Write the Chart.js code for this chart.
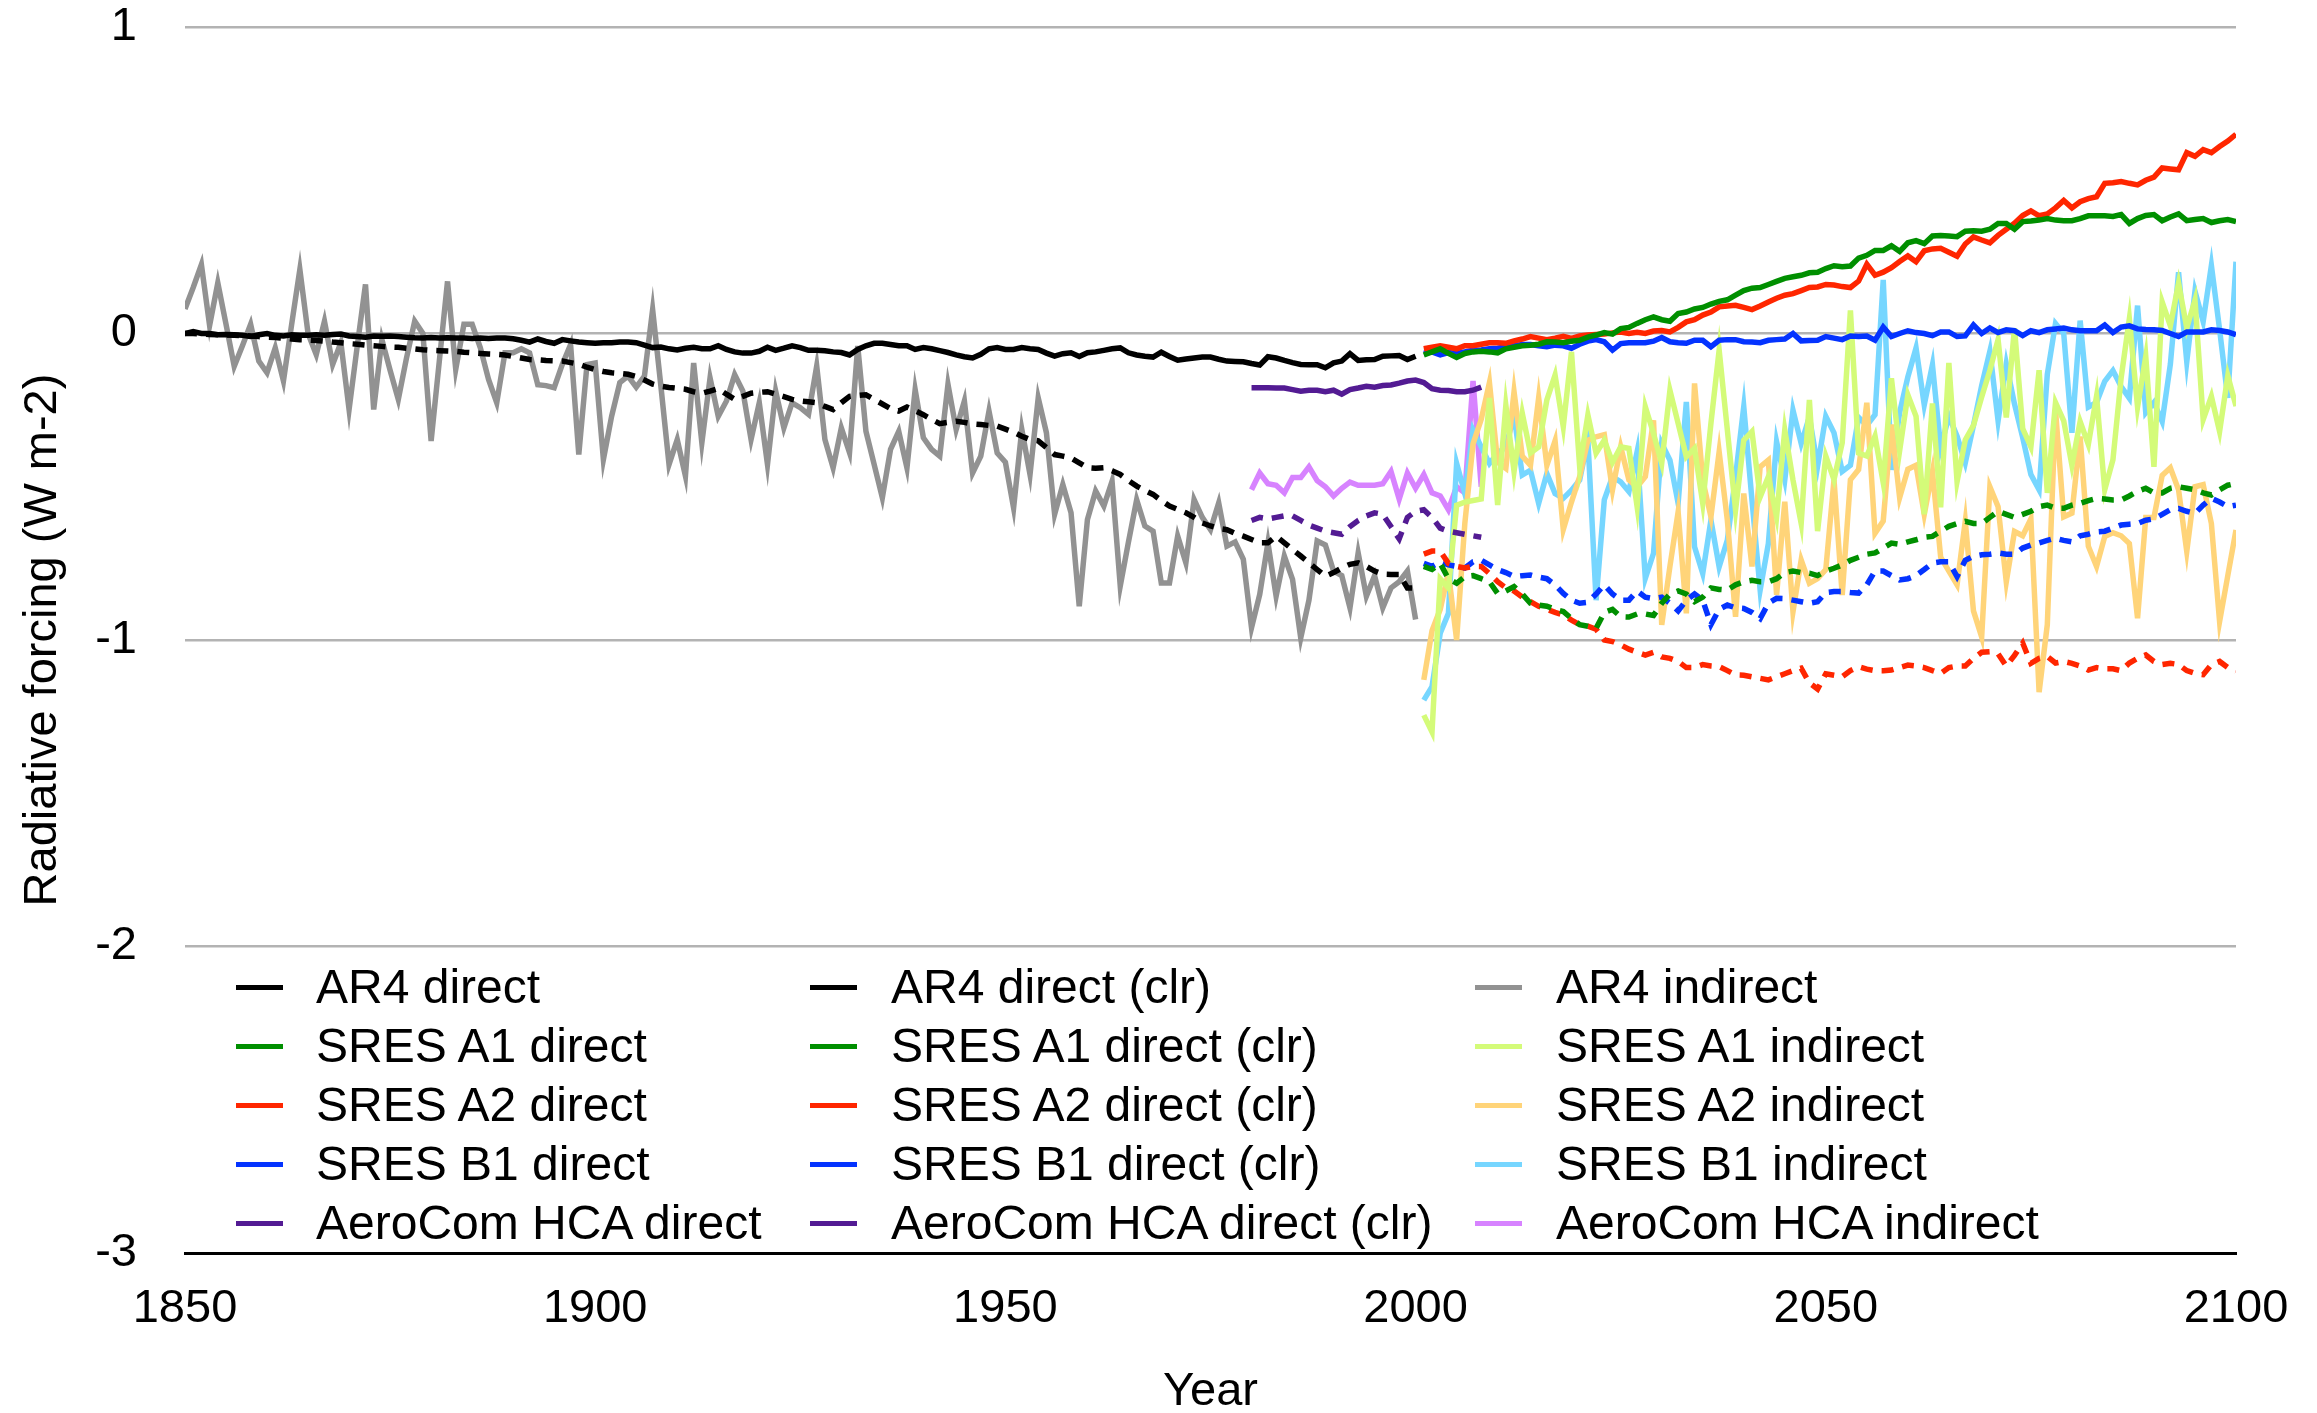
<!DOCTYPE html>
<html><head><meta charset="utf-8">
<script src="https://cdn.jsdelivr.net/npm/chart.js@4.4.1/dist/chart.umd.min.js"></script>
<style>
html,body{margin:0;padding:0;background:#fff;overflow:hidden;}
#wrap{position:relative;width:2317px;height:1413px;}
canvas{display:block;}
.lgt{position:absolute;font-family:"Liberation Sans",Arial,Helvetica,sans-serif;font-size:48px;line-height:56px;color:#000;white-space:nowrap;}
.lgs{position:absolute;height:5px;width:47px;}
</style></head><body>
<div id="wrap"><canvas id="c" width="2317" height="1413" style="width:2317px;height:1413px"></canvas><div id="legend"></div></div>
<script>
// ---------- tick labels ----------
const xTickValues = [1850, 1900, 1950, 2000, 2050, 2100];
const yTickValues = [1, 0, -1, -2, -3];

// ---------- first year of each series ----------
const ar4StartYear = 1850;
const aeroStartYear = 1980;
const sresStartYear = 2001;

// ---------- AR4 (1850-2000) ----------
const ar4Direct = [
 0.000, 0.006, 0.000, 0.000, -0.004, -0.003, -0.004, -0.006, -0.010, -0.004,
 0.000, -0.006, -0.008, -0.004, -0.006, -0.006, -0.004, -0.006, -0.003, -0.002,
 -0.008, -0.010, -0.012, -0.008, -0.009, -0.008, -0.010, -0.012, -0.014, -0.015,
 -0.013, -0.015, -0.014, -0.015, -0.015, -0.016, -0.015, -0.016, -0.015, -0.015,
 -0.017, -0.022, -0.028, -0.018, -0.026, -0.032, -0.020, -0.024, -0.028, -0.030,
 -0.032, -0.030, -0.030, -0.028, -0.028, -0.030, -0.038, -0.046, -0.044, -0.050,
 -0.054, -0.048, -0.045, -0.050, -0.050, -0.040, -0.052, -0.060, -0.064, -0.064,
 -0.058, -0.045, -0.055, -0.048, -0.040, -0.046, -0.055, -0.055, -0.056, -0.060,
 -0.062, -0.070, -0.052, -0.040, -0.032, -0.032, -0.036, -0.040, -0.040, -0.052,
 -0.046, -0.050, -0.056, -0.062, -0.070, -0.076, -0.080, -0.068, -0.050, -0.046,
 -0.052, -0.052, -0.046, -0.050, -0.052, -0.064, -0.074, -0.066, -0.063, -0.075,
 -0.063, -0.060, -0.055, -0.050, -0.047, -0.063, -0.070, -0.074, -0.077, -0.061,
 -0.075, -0.087, -0.083, -0.080, -0.077, -0.077, -0.084, -0.090, -0.091, -0.092,
 -0.098, -0.103, -0.076, -0.080, -0.088, -0.095, -0.101, -0.102, -0.102, -0.112,
 -0.096, -0.090, -0.066, -0.088, -0.086, -0.085, -0.074, -0.073, -0.072, -0.085,
 -0.074
];
const ar4DirectClr = [
 0.000, 0.000, -0.002, -0.003, -0.004, -0.005, -0.006, -0.007, -0.008, -0.010,
 -0.012, -0.013, -0.015, -0.018, -0.020, -0.021, -0.023, -0.025, -0.028, -0.030,
 -0.033, -0.035, -0.038, -0.040, -0.042, -0.044, -0.045, -0.048, -0.050, -0.053,
 -0.055, -0.056, -0.057, -0.058, -0.061, -0.063, -0.065, -0.067, -0.068, -0.070,
 -0.075, -0.080, -0.085, -0.086, -0.088, -0.089, -0.090, -0.095, -0.100, -0.110,
 -0.118, -0.124, -0.128, -0.130, -0.133, -0.140, -0.152, -0.165, -0.172, -0.176,
 -0.179, -0.182, -0.190, -0.195, -0.188, -0.180, -0.198, -0.215, -0.205, -0.195,
 -0.192, -0.190, -0.198, -0.206, -0.215, -0.220, -0.223, -0.226, -0.238, -0.248,
 -0.226, -0.205, -0.202, -0.200, -0.215, -0.230, -0.245, -0.253, -0.240, -0.252,
 -0.265, -0.280, -0.294, -0.290, -0.286, -0.290, -0.295, -0.297, -0.300, -0.302,
 -0.312, -0.322, -0.335, -0.346, -0.350, -0.372, -0.395, -0.400, -0.406, -0.422,
 -0.438, -0.440, -0.438, -0.448, -0.460, -0.480, -0.498, -0.512, -0.525, -0.545,
 -0.563, -0.574, -0.585, -0.600, -0.618, -0.628, -0.636, -0.640, -0.652, -0.661,
 -0.672, -0.683, -0.683, -0.661, -0.683, -0.705, -0.726, -0.748, -0.770, -0.792,
 -0.780, -0.765, -0.753, -0.748, -0.760, -0.775, -0.785, -0.786, -0.786, -0.830,
 -0.830
];
const ar4Indirect = [
 0.080, 0.150, 0.225, 0.026, 0.165, 0.030, -0.107, -0.040, 0.030, -0.090,
 -0.128, -0.047, -0.155, 0.030, 0.209, 0.000, -0.069, 0.040, -0.101, -0.030,
 -0.248, -0.040, 0.160, -0.248, -0.020, -0.120, -0.215, -0.080, 0.040, 0.000,
 -0.351, -0.090, 0.170, -0.117, 0.030, 0.030, -0.047, -0.150, -0.226, -0.063,
 -0.063, -0.050, -0.063, -0.167, -0.170, -0.177, -0.100, -0.036, -0.395, -0.101,
 -0.096, -0.411, -0.270, -0.160, -0.139, -0.175, -0.139, 0.078, -0.170, -0.427,
 -0.346, -0.465, -0.096, -0.357, -0.145, -0.270, -0.220, -0.134, -0.188, -0.346,
 -0.226, -0.427, -0.188, -0.308, -0.226, -0.242, -0.264, -0.106, -0.346, -0.438,
 -0.308, -0.389, -0.041, -0.319, -0.427, -0.536, -0.378, -0.319, -0.438, -0.183,
 -0.340, -0.378, -0.400, -0.166, -0.313, -0.220, -0.455, -0.400, -0.253, -0.390,
 -0.420, -0.569, -0.313, -0.460, -0.210, -0.324, -0.590, -0.493, -0.585, -0.890,
 -0.607, -0.514, -0.563, -0.482, -0.824, -0.680, -0.542, -0.628, -0.645, -0.814,
 -0.814, -0.661, -0.748, -0.542, -0.600, -0.640, -0.553, -0.694, -0.680, -0.737,
 -0.960, -0.851, -0.683, -0.857, -0.726, -0.802, -0.993, -0.870, -0.677, -0.690,
 -0.775, -0.790, -0.895, -0.716, -0.857, -0.790, -0.895, -0.830, -0.810, -0.775,
 -0.933
];

// ---------- AeroCom HCA (1980-2008) ----------
const aeroDirect = [
 -0.177, -0.177, -0.177, -0.178, -0.178, -0.183, -0.188, -0.185, -0.185, -0.190,
 -0.185, -0.198, -0.183, -0.178, -0.172, -0.175, -0.170, -0.168, -0.162, -0.155,
 -0.152, -0.160, -0.180, -0.185, -0.186, -0.190, -0.190, -0.185, -0.175
];
const aeroDirectClr = [
 -0.610, -0.600, -0.605, -0.600, -0.595, -0.595, -0.610, -0.625, -0.635, -0.645,
 -0.650, -0.655, -0.630, -0.610, -0.595, -0.585, -0.590, -0.630, -0.670, -0.600,
 -0.580, -0.575, -0.600, -0.635, -0.645, -0.650, -0.655, -0.660, -0.665
];
const aeroIndirect = [
 -0.510, -0.455, -0.490, -0.495, -0.520, -0.470, -0.470, -0.435, -0.480, -0.500,
 -0.530, -0.505, -0.485, -0.495, -0.495, -0.495, -0.490, -0.450, -0.540, -0.455,
 -0.505, -0.460, -0.520, -0.530, -0.575, -0.500, -0.520, -0.155, -0.500
];

// ---------- SRES (2001-2100) ----------
const a1Direct = [
 -0.070, -0.060, -0.050, -0.065, -0.078, -0.065, -0.060, -0.058, -0.060, -0.063,
 -0.050, -0.045, -0.040, -0.038, -0.035, -0.027, -0.028, -0.030, -0.025, -0.022,
 -0.012, -0.005, 0.003, -0.002, 0.016, 0.020, 0.033, 0.045, 0.054, 0.045,
 0.040, 0.065, 0.070, 0.080, 0.085, 0.096, 0.105, 0.110, 0.125, 0.140,
 0.148, 0.150, 0.160, 0.170, 0.180, 0.185, 0.190, 0.198, 0.200, 0.212,
 0.221, 0.218, 0.220, 0.246, 0.255, 0.271, 0.271, 0.286, 0.268, 0.296,
 0.303, 0.293, 0.318, 0.320, 0.318, 0.316, 0.334, 0.335, 0.334, 0.340,
 0.359, 0.359, 0.340, 0.365, 0.367, 0.370, 0.375, 0.370, 0.368, 0.368,
 0.375, 0.384, 0.384, 0.384, 0.382, 0.388, 0.359, 0.375, 0.385, 0.388,
 0.368, 0.380, 0.390, 0.368, 0.372, 0.375, 0.362, 0.368, 0.372, 0.365
];
const a2Direct = [
 -0.050, -0.045, -0.040, -0.045, -0.050, -0.040, -0.040, -0.035, -0.030, -0.030,
 -0.032, -0.024, -0.018, -0.010, -0.015, -0.020, -0.015, -0.009, -0.016, -0.008,
 -0.005, -0.003, -0.002, 0.002, 0.005, 0.000, 0.004, 0.000, 0.008, 0.010,
 0.005, 0.020, 0.038, 0.045, 0.060, 0.070, 0.087, 0.090, 0.092, 0.085,
 0.078, 0.090, 0.103, 0.115, 0.125, 0.130, 0.140, 0.150, 0.152, 0.160,
 0.158, 0.153, 0.150, 0.171, 0.226, 0.190, 0.200, 0.215, 0.235, 0.253,
 0.234, 0.270, 0.276, 0.278, 0.265, 0.252, 0.292, 0.315, 0.305, 0.296,
 0.320, 0.340, 0.360, 0.385, 0.400, 0.384, 0.390, 0.410, 0.434, 0.410,
 0.430, 0.440, 0.446, 0.490, 0.492, 0.496, 0.490, 0.485, 0.500, 0.510,
 0.540, 0.537, 0.534, 0.590, 0.578, 0.600, 0.590, 0.610, 0.628, 0.650
];
const b1Direct = [
 -0.065, -0.060, -0.070, -0.062, -0.065, -0.060, -0.055, -0.054, -0.050, -0.048,
 -0.043, -0.040, -0.036, -0.036, -0.040, -0.043, -0.038, -0.040, -0.048, -0.035,
 -0.025, -0.020, -0.027, -0.054, -0.033, -0.030, -0.030, -0.030, -0.025, -0.013,
 -0.027, -0.030, -0.032, -0.022, -0.022, -0.043, -0.022, -0.020, -0.020, -0.027,
 -0.028, -0.030, -0.022, -0.020, -0.018, 0.000, -0.024, -0.023, -0.022, -0.010,
 -0.015, -0.020, -0.008, -0.010, -0.008, -0.022, 0.021, -0.010, 0.000, 0.009,
 0.003, 0.000, -0.007, 0.005, 0.005, -0.010, -0.008, 0.028, 0.000, 0.018,
 0.003, 0.012, 0.009, -0.007, 0.009, 0.003, 0.012, 0.015, 0.018, 0.012,
 0.009, 0.009, 0.009, 0.028, 0.003, 0.021, 0.025, 0.015, 0.013, 0.012,
 0.010, 0.000, -0.010, 0.005, 0.005, 0.005, 0.012, 0.010, 0.005, -0.004
];
const a1DirectClr = [
 -0.760, -0.770, -0.750, -0.800, -0.815, -0.793, -0.790, -0.800, -0.810, -0.848,
 -0.840, -0.826, -0.850, -0.880, -0.886, -0.890, -0.900, -0.907, -0.930, -0.950,
 -0.955, -0.962, -0.910, -0.900, -0.924, -0.925, -0.915, -0.915, -0.920, -0.880,
 -0.850, -0.840, -0.850, -0.875, -0.860, -0.830, -0.835, -0.837, -0.820, -0.810,
 -0.805, -0.810, -0.810, -0.800, -0.780, -0.775, -0.780, -0.782, -0.790, -0.775,
 -0.766, -0.755, -0.740, -0.730, -0.720, -0.716, -0.700, -0.684, -0.688, -0.680,
 -0.673, -0.665, -0.662, -0.645, -0.629, -0.620, -0.613, -0.620, -0.620, -0.600,
 -0.580, -0.590, -0.600, -0.590, -0.580, -0.565, -0.560, -0.570, -0.570, -0.560,
 -0.554, -0.545, -0.538, -0.540, -0.543, -0.543, -0.530, -0.515, -0.505, -0.520,
 -0.520, -0.505, -0.500, -0.505, -0.510, -0.520, -0.527, -0.510, -0.495, -0.489
];
const a2DirectClr = [
 -0.720, -0.710, -0.710, -0.750, -0.760, -0.765, -0.760, -0.760, -0.783, -0.810,
 -0.830, -0.840, -0.860, -0.875, -0.890, -0.900, -0.910, -0.918, -0.935, -0.950,
 -0.955, -0.965, -1.000, -1.005, -1.016, -1.030, -1.040, -1.049, -1.040, -1.055,
 -1.060, -1.070, -1.090, -1.090, -1.080, -1.085, -1.087, -1.100, -1.114, -1.115,
 -1.120, -1.125, -1.130, -1.120, -1.110, -1.100, -1.092, -1.140, -1.160, -1.110,
 -1.115, -1.120, -1.100, -1.087, -1.095, -1.100, -1.100, -1.098, -1.090, -1.082,
 -1.085, -1.090, -1.100, -1.109, -1.090, -1.085, -1.085, -1.060, -1.040, -1.038,
 -1.045, -1.085, -1.050, -1.010, -1.076, -1.060, -1.054, -1.075, -1.070, -1.076,
 -1.085, -1.098, -1.090, -1.094, -1.094, -1.100, -1.075, -1.060, -1.049, -1.070,
 -1.080, -1.076, -1.080, -1.100, -1.109, -1.113, -1.080, -1.070, -1.090, -1.100
];
const b1DirectClr = [
 -0.750, -0.760, -0.745, -0.755, -0.760, -0.765, -0.745, -0.740, -0.755, -0.770,
 -0.780, -0.793, -0.790, -0.788, -0.795, -0.800, -0.820, -0.848, -0.870, -0.880,
 -0.877, -0.850, -0.820, -0.850, -0.870, -0.870, -0.840, -0.860, -0.865, -0.860,
 -0.880, -0.905, -0.870, -0.850, -0.870, -0.950, -0.900, -0.886, -0.895, -0.897,
 -0.910, -0.930, -0.880, -0.864, -0.865, -0.870, -0.875, -0.880, -0.875, -0.845,
 -0.842, -0.842, -0.845, -0.847, -0.820, -0.775, -0.775, -0.790, -0.804, -0.800,
 -0.790, -0.770, -0.749, -0.745, -0.745, -0.793, -0.740, -0.727, -0.722, -0.720,
 -0.716, -0.720, -0.720, -0.700, -0.690, -0.683, -0.675, -0.668, -0.675, -0.680,
 -0.660, -0.655, -0.647, -0.645, -0.635, -0.625, -0.622, -0.620, -0.609, -0.605,
 -0.590, -0.575, -0.571, -0.580, -0.587, -0.560, -0.538, -0.550, -0.565, -0.560
];
const a1Indirect = [
 -1.245, -1.300, -0.800, -0.830, -0.560, -0.550, -0.545, -0.540, -0.210, -0.560,
 -0.234, -0.450, -0.260, -0.390, -0.370, -0.217, -0.136, -0.304, -0.060, -0.435,
 -0.266, -0.390, -0.348, -0.420, -0.370, -0.375, -0.565, -0.239, -0.326, -0.424,
 -0.185, -0.293, -0.402, -0.375, -0.554, -0.293, -0.054, -0.315, -0.576, -0.348,
 -0.320, -0.533, -0.467, -0.598, -0.315, -0.478, -0.620, -0.217, -0.645, -0.400,
 -0.477, -0.357, 0.075, -0.390, -0.400, -0.335, -0.487, -0.146, -0.382, -0.200,
 -0.270, -0.590, -0.228, -0.567, -0.096, -0.483, -0.347, -0.300, -0.207, -0.120,
 -0.020, -0.274, 0.017, -0.310, -0.370, -0.120, -0.520, -0.225, -0.285, -0.430,
 -0.287, -0.362, -0.205, -0.510, -0.412, -0.145, 0.048, -0.240, -0.075, -0.435,
 0.103, 0.025, 0.164, 0.018, 0.109, -0.281, -0.205, -0.320, -0.138, -0.237
];
const a2Indirect = [
 -1.130, -0.970, -0.900, -0.780, -1.000, -0.620, -0.360, -0.280, -0.160, -0.420,
 -0.440, -0.190, -0.400, -0.430, -0.210, -0.430, -0.350, -0.640, -0.550, -0.467,
 -0.348, -0.337, -0.330, -0.510, -0.370, -0.478, -0.500, -0.467, -0.283, -0.951,
 -0.760, -0.582, -0.913, -0.163, -0.478, -0.598, -0.386, -0.609, -0.924, -0.522,
 -0.760, -0.435, -0.413, -0.853, -0.549, -0.908, -0.739, -0.815, -0.800, -0.770,
 -0.477, -0.853, -0.477, -0.444, -0.226, -0.652, -0.612, -0.297, -0.536, -0.443,
 -0.430, -0.590, -0.450, -0.730, -0.775, -0.820, -0.612, -0.905, -0.990, -0.500,
 -0.565, -0.810, -0.646, -0.660, -0.605, -1.170, -0.950, -0.250, -0.598, -0.586,
 -0.336, -0.694, -0.760, -0.662, -0.650, -0.660, -0.685, -0.929, -0.600, -0.600,
 -0.463, -0.438, -0.510, -0.711, -0.500, -0.493, -0.620, -0.940, -0.790, -0.641
];
const b1Indirect = [
 -1.196, -1.152, -0.978, -0.913, -0.424, -0.522, -0.315, -0.370, -0.424, -0.391,
 -0.370, -0.266, -0.462, -0.446, -0.554, -0.457, -0.522, -0.538, -0.511, -0.478,
 -0.348, -0.870, -0.543, -0.467, -0.484, -0.516, -0.386, -0.799, -0.717, -0.359,
 -0.413, -0.554, -0.223, -0.696, -0.783, -0.609, -0.761, -0.674, -0.467, -0.239,
 -0.543, -0.837, -0.685, -0.353, -0.478, -0.250, -0.359, -0.272, -0.433, -0.270,
 -0.324, -0.450, -0.430, -0.274, -0.300, -0.265, 0.175, -0.445, -0.258, -0.142,
 -0.047, -0.233, -0.102, -0.373, -0.270, -0.335, -0.422, -0.300, -0.170, -0.058,
 -0.285, -0.099, -0.230, -0.340, -0.460, -0.510, -0.133, 0.033, 0.000, -0.324,
 0.042, -0.240, -0.225, -0.156, -0.121, -0.173, -0.211, 0.091, -0.258, -0.225,
 -0.287, -0.100, 0.200, -0.092, 0.138, 0.039, 0.222, 0.013, -0.210, 0.234
];

// ---------- series styling (legend column / row) ----------
const FONT = '"Liberation Sans", Arial, Helvetica, sans-serif';
const series = [
  {label:'AR4 direct', start:ar4StartYear, values:ar4Direct, color:'#000000', dashed:false, kind:'direct', col:0, row:0},
  {label:'SRES A1 direct', start:sresStartYear, values:a1Direct, color:'#008f00', dashed:false, kind:'direct', col:0, row:1},
  {label:'SRES A2 direct', start:sresStartYear, values:a2Direct, color:'#ff2600', dashed:false, kind:'direct', col:0, row:2},
  {label:'SRES B1 direct', start:sresStartYear, values:b1Direct, color:'#0433ff', dashed:false, kind:'direct', col:0, row:3},
  {label:'AeroCom HCA direct', start:aeroStartYear, values:aeroDirect, color:'#531b93', dashed:false, kind:'direct', col:0, row:4},
  {label:'AR4 direct (clr)', start:ar4StartYear, values:ar4DirectClr, color:'#000000', dashed:true, kind:'clr', col:1, row:0},
  {label:'SRES A1 direct (clr)', start:sresStartYear, values:a1DirectClr, color:'#008f00', dashed:true, kind:'clr', col:1, row:1},
  {label:'SRES A2 direct (clr)', start:sresStartYear, values:a2DirectClr, color:'#ff2600', dashed:true, kind:'clr', col:1, row:2},
  {label:'SRES B1 direct (clr)', start:sresStartYear, values:b1DirectClr, color:'#0433ff', dashed:true, kind:'clr', col:1, row:3},
  {label:'AeroCom HCA direct (clr)', start:aeroStartYear, values:aeroDirectClr, color:'#531b93', dashed:true, kind:'clr', col:1, row:4},
  {label:'AR4 indirect', start:ar4StartYear, values:ar4Indirect, color:'#929292', dashed:false, kind:'indirect', col:2, row:0},
  {label:'SRES A1 indirect', start:sresStartYear, values:a1Indirect, color:'#d4fb79', dashed:false, kind:'indirect', col:2, row:1},
  {label:'SRES A2 indirect', start:sresStartYear, values:a2Indirect, color:'#ffd479', dashed:false, kind:'indirect', col:2, row:2},
  {label:'SRES B1 indirect', start:sresStartYear, values:b1Indirect, color:'#76d6ff', dashed:false, kind:'indirect', col:2, row:3},
  {label:'AeroCom HCA indirect', start:aeroStartYear, values:aeroIndirect, color:'#d783ff', dashed:false, kind:'indirect', col:2, row:4}
];
const drawOrder = {clr:0, direct:1, indirect:2};

const datasets = series.map(s => ({
  label: s.label,
  data: s.values.map((v, i) => ({x: s.start + i, y: v})),
  borderColor: s.color,
  backgroundColor: s.color,
  borderWidth: 5.5,
  borderDash: s.dashed ? [12, 9] : [],
  pointRadius: 0,
  pointHoverRadius: 0,
  tension: 0,
  fill: false,
  order: drawOrder[s.kind]
}));

Chart.defaults.font.family = FONT;
Chart.defaults.font.size = 47;
Chart.defaults.color = '#000';

new Chart(document.getElementById('c'), {
  type: 'line',
  data: { datasets },
  options: {
    responsive: false,
    devicePixelRatio: 1,
    animation: false,
    events: [],
    layout: { padding: { left: 0, right: 81, top: 27, bottom: 0 } },
    plugins: { legend: { display: false }, tooltip: { enabled: false } },
    scales: {
      x: {
        type: 'linear', min: xTickValues[0], max: xTickValues[xTickValues.length - 1],
        afterBuildTicks: s => { s.ticks = xTickValues.map(v => ({ value: v })); },
        afterFit: s => { s.height = 160; s.paddingLeft = 0; s.paddingRight = 0; },
        ticks: { callback: v => String(v), padding: 28, maxRotation: 0, autoSkip: false, font: { size: 47, family: FONT }, color: '#000' },
        grid: { display: false, drawTicks: false },
        border: { display: true, color: '#000', width: 3 },
        title: { display: true, text: 'Year', font: { size: 47, family: FONT }, color: '#000', padding: { top: 0, bottom: -7 } }
      },
      y: {
        type: 'linear', min: yTickValues[yTickValues.length - 1], max: yTickValues[0],
        afterBuildTicks: s => { s.ticks = yTickValues.slice().reverse().map(v => ({ value: v })); },
        afterFit: s => { s.width = 185; s.paddingTop = 0; s.paddingBottom = 0; },
        ticks: { callback: v => String(v), padding: 48, font: { size: 47, family: FONT }, color: '#000' },
        grid: { drawTicks: false, lineWidth: 2.5, color: c => (c.tick && c.tick.value === yTickValues[yTickValues.length - 1]) ? 'rgba(0,0,0,0)' : '#b3b3b3' },
        border: { display: false },
        title: { display: true, text: 'Radiative forcing (W m-2)', font: { size: 47, family: FONT }, color: '#000', padding: { top: 15, bottom: 0 } }
      }
    }
  }
});

// ---------- legend (HTML, inside the plot area) ----------
const legendSwatchX = [236, 810, 1475];
const legendTextX = [316, 891, 1556];
const legendRowY = [987, 1046, 1105, 1164, 1223];
const lg = document.getElementById('legend');
series.forEach(s => {
  const sw = document.createElement('div');
  sw.className = 'lgs';
  sw.style.left = legendSwatchX[s.col] + 'px';
  sw.style.top = (legendRowY[s.row] - 2.5) + 'px';
  sw.style.background = s.color;
  lg.appendChild(sw);
  const t = document.createElement('div');
  t.className = 'lgt';
  t.style.left = legendTextX[s.col] + 'px';
  t.style.top = (legendRowY[s.row] - 28) + 'px';
  t.textContent = s.label;
  lg.appendChild(t);
});
</script>
</body></html>
